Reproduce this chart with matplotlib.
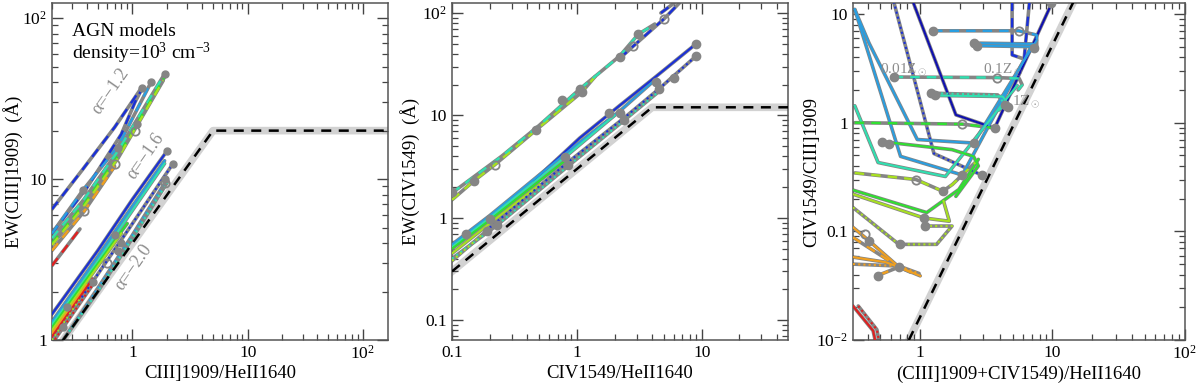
import matplotlib
matplotlib.use("Agg")
import matplotlib.pyplot as plt
from matplotlib.ticker import FixedLocator, LogLocator, NullFormatter, FuncFormatter

plt.rcParams['font.family'] = ['Liberation Serif', 'DejaVu Serif']
plt.rcParams['mathtext.fontset'] = 'custom'
plt.rcParams['mathtext.rm'] = 'Liberation Serif'
plt.rcParams['mathtext.it'] = 'Liberation Serif:italic'

RED = '#e02020'
ORANGE = '#f0a020'
YGREEN = '#a8e020'
GREEN = '#30e030'
TEAL = '#30e0b0'
CYAN = '#2a9ee0'
BLUE = '#1a30d8'
DBLUE = '#1010b0'
GRAY = '#858585'

# ---- panel 1: EW(CIII]) vs CIII]/HeII ----
p1_dash_colors = [BLUE, BLUE, CYAN, TEAL, GREEN, YGREEN, ORANGE, RED]
p1_dash_x = [[0.2, 0.37, 0.7, 1.2], [0.2, 0.4, 0.8, 1.05, 1.2], [0.2, 0.37, 0.75, 1.45],
             [0.2, 0.38, 0.75, 1.9], [0.2, 0.38, 0.75, 1.9], [0.2, 0.38, 0.75, 1.85],
             [0.2, 0.38, 0.7], [0.2, 0.35]]
p1_dash_y = [[6.5, 11.5, 21, 37], [4.6, 8.8, 19, 30, 36], [4.6, 8.5, 16, 40],
             [4.3, 7.5, 15, 45], [4.0, 7.0, 14, 43], [3.9, 6.8, 13.5, 41],
             [3.6, 6.3, 12], [2.9, 4.9]]

p1_solid_colors = [BLUE, CYAN, TEAL, GREEN, YGREEN, ORANGE, RED]
p1_solid_x = [[0.2, 0.5, 1.0, 2.0], [0.2, 0.5, 1.0, 1.9], [0.2, 0.5, 1.0, 1.9],
              [0.2, 0.45, 0.9], [0.2, 0.4, 0.8], [0.2, 0.4], [0.2, 0.45]]
p1_solid_y = [[1.45, 3.6, 7.5, 15], [1.3, 3.3, 6.8, 13], [1.25, 3.1, 6.4, 12.5],
              [1.2, 2.7, 5.3], [1.15, 2.3, 4.6], [1.1, 2.2], [1.05, 2.4]]

p1_dot_colors = [BLUE, CYAN, TEAL, YGREEN, RED]
p1_dot_x = [[0.2, 0.45, 1.0, 2.25], [0.25, 0.5, 1.0, 2.0], [0.25, 0.5, 1.0, 2.0],
            [0.2, 0.35], [0.2, 0.45]]
p1_dot_y = [[1.0, 2.3, 5.3, 12.5], [1.0, 2.1, 4.5, 10], [1.0, 2.0, 4.3, 9.5],
            [1.0, 1.8], [0.95, 2.2]]

p1_dots_x = [1.2, 1.45, 1.9, 0.37, 0.75, 1.1, 2.0, 2.25, 1.9, 0.7, 0.75, 0.45, 0.27, 0.25, 0.8]
p1_dots_y = [37, 40, 45, 8.5, 15.5, 22, 15, 12.5, 10, 4.5, 3.6, 2.3, 1.6, 1.2, 4.0]
p1_open_x = [0.38, 0.7, 1.05, 1.9, 0.6]
p1_open_y = [6.3, 12.5, 20, 9.5, 3.0]

p1_lim_x = [0.2, 5.0, 200.0]
p1_lim_y = [0.8, 20.0, 20.0]

# ---- panel 2: EW(CIV) vs CIV/HeII ----
p2_dash_colors = [YGREEN, TEAL, BLUE, BLUE]
p2_dash_x = [[0.1, 0.15, 0.22, 0.47, 1.1, 1.4], [0.1, 0.25, 0.5, 1.05, 2.2, 3.1, 4.2],
             [2.2, 2.8, 5.0, 6.6], [4.7, 6.0]]
p2_dash_y = [[1.5, 2.3, 3.3, 7.2, 17, 24], [1.75, 4.0, 8.0, 18, 38, 62, 78],
             [36, 47, 88, 125], [100, 125]]

p2_solid_colors = [BLUE, CYAN, TEAL, GREEN, YGREEN]
p2_solid_x = [[0.45, 0.8, 1.05, 2.2, 4.3, 9.0], [0.1, 0.2, 0.8, 2.2, 4.0],
              [0.1, 0.2, 0.8, 2.0], [0.1, 0.2, 0.8], [0.1, 0.2, 0.5]]
p2_solid_y = [[2.3, 4.4, 6.0, 12.5, 24, 50], [0.55, 1.05, 4.2, 11, 21],
              [0.52, 1.0, 3.9, 10], [0.5, 0.95, 3.6], [0.45, 0.88, 2.1]]

p2_dot_colors = [BLUE, TEAL, YGREEN]
p2_dot_x = [[0.2, 0.8, 2.4, 4.5, 9.0], [0.1, 0.23, 0.85, 2.4, 4.5], [0.1, 0.19]]
p2_dot_y = [[0.8, 3.3, 9.5, 18, 38], [0.4, 0.85, 3.2, 9, 17], [0.38, 0.75]]

p2_dots_x = [0.1, 0.15, 0.47, 1.1, 1.05, 2.2, 3.1, 0.76, 0.2, 0.23, 0.19, 0.13,
             0.8, 0.85, 2.2, 2.4, 4.3, 4.5, 9.0, 9.0, 1.8, 6.0]
p2_dots_y = [1.8, 2.3, 7.2, 17, 18, 37, 63, 14.3, 0.97, 0.85, 0.75, 0.7,
             3.9, 3.3, 10.5, 9.0, 21, 18, 50, 38, 10.5, 23]
p2_open_x = [0.22, 2.8, 5.0]
p2_open_y = [3.3, 48, 88]

p2_lim_x = [0.1, 4.0, 60.0]
p2_lim_y = [0.3, 12.0, 12.0]

# ---- panel 3: CIV/CIII] vs (CIII]+CIV)/HeII ----
p3_colors = [DBLUE, BLUE, BLUE, CYAN, CYAN, TEAL, GREEN, GREEN, GREEN, YGREEN, YGREEN,
             YGREEN, ORANGE, ORANGE, ORANGE, ORANGE, RED, RED,
             CYAN, CYAN, CYAN, TEAL, TEAL, TEAL]
p3_styles = ['-', ':', '--', '-', '-', '-', '--', '-', '-', '--', '-',
             ':', '-', '--', ':', '-', '-', ':',
             '--', '-', '-', '--', ':', '-']
p3_x = [[0.88, 1.86, 3.65, 10.0],
        [0.63, 1.27, 2.91],
        [4.95, 4.95, 6.1, 6.7],
        [0.32, 0.41, 0.95, 2.53, 7.57],
        [0.32, 0.71, 2.08, 6.9],
        [0.32, 0.48, 1.55, 5.4],
        [0.32, 2.08, 3.73],
        [0.51, 1.74, 2.53, 2.75, 1.86],
        [0.31, 1.12, 1.96, 2.75],
        [0.32, 0.93, 1.48, 1.75, 2.6],
        [0.31, 1.06, 1.66, 1.5],
        [0.31, 0.69, 1.33, 1.74, 1.06],
        [0.31, 0.41, 0.69, 1.0],
        [0.31, 0.69, 0.47],
        [0.31, 0.69, 0.98],
        [0.31, 0.55, 0.69, 0.85],
        [0.31, 0.44, 0.46],
        [0.34, 0.47, 0.49],
        [1.25, 5.56, 7.6, 7.6],
        [2.53, 7.2],
        [2.7, 7.4],
        [0.63, 3.8, 5.6, 5.9, 5.5],
        [1.2, 3.85, 4.4],
        [1.3, 4.2, 4.6, 3.9]]
p3_y = [[13, 1.18, 0.89, 13],
        [13, 0.52, 0.33],
        [13, 4.2, 3.85, 13],
        [11, 5.4, 0.70, 0.65, 5.7],
        [11, 0.49, 0.33, 5.0],
        [1.43, 0.43, 0.32, 2.2],
        [1.0, 0.97, 0.89],
        [0.67, 0.565, 0.49, 0.40, 0.21],
        [0.24, 0.149, 0.243, 0.46],
        [0.345, 0.30, 0.234, 0.27, 0.43],
        [0.22, 0.133, 0.124, 0.19],
        [0.166, 0.076, 0.076, 0.112, 0.112],
        [0.109, 0.082, 0.047, 0.039],
        [0.088, 0.047, 0.039],
        [0.05, 0.048, 0.041],
        [0.058, 0.052, 0.047, 0.042],
        [0.0206, 0.0122, 0.0095],
        [0.0206, 0.0125, 0.0095],
        [7.0, 7.0, 6.4, 4.9],
        [5.4, 5.3],
        [5.1, 5.0],
        [2.63, 2.6, 2.55, 2.23, 2.0],
        [1.87, 1.8, 1.46],
        [1.78, 1.74, 1.5, 1.3]]

p3_dots_x = [1.25, 2.53, 2.7, 0.63, 1.2, 1.3, 0.51, 0.58, 9.75, 7.2, 4.4, 3.65, 2.53,
             2.08, 2.91, 1.48, 1.08, 1.06, 0.7, 0.41, 0.69, 0.48, 4.6]
p3_dots_y = [7.0, 5.4, 5.1, 2.63, 1.87, 1.78, 0.67, 0.64, 12.5, 4.9, 1.46, 0.89, 0.65,
             0.33, 0.33, 0.234, 0.112, 0.133, 0.076, 0.082, 0.047, 0.039, 1.4]
p3_open_x = [5.56, 3.8, 2.08, 0.93, 0.38]
p3_open_y = [7.0, 2.6, 0.97, 0.30, 0.095]

p3_lim_x = [0.82, 16.0]
p3_lim_y = [0.01, 16.8]

p3_z_labels = ['0.01Z$_\\odot$', '0.1Z$_\\odot$', '1Z$_\\odot$']
p3_z_x = [0.75, 4.2, 6.3]
p3_z_y = [3.06, 3.06, 1.56]


def track(ax, x, y, color, ls):
    ax.plot(x, y, color=GRAY, lw=2.6, solid_capstyle='round', zorder=2)
    if ls == '--':
        ax.plot(x, y, color=color, lw=1.7, dashes=(4, 3), zorder=3)
    elif ls == ':':
        ax.plot(x, y, color=color, lw=1.5, dashes=(1, 1.5), zorder=3)
    else:
        ax.plot(x, y, color=color, lw=1.5, zorder=3)


def limit(ax, x, y):
    ax.plot(x, y, color='#d2d2d2', lw=5.5, zorder=1)
    ax.plot(x, y, color='black', lw=1.8, dashes=(4, 3), zorder=4)


def fmt(v, pos):
    if v in (1, 10, 0.1):
        return '%g' % v
    if v == 100:
        return '10$^2$'
    if v == 0.01:
        return '10$^{-2}$'
    return ''


def style(ax, xlim, ylim, xmajor, ymajor, ylab_x):
    ax.set_xscale('log')
    ax.set_yscale('log')
    ax.set_xlim(*xlim)
    ax.set_ylim(*ylim)
    ax.xaxis.set_major_locator(FixedLocator(xmajor))
    ax.yaxis.set_major_locator(FixedLocator(ymajor))
    ax.xaxis.set_minor_locator(LogLocator(subs=range(2, 10)))
    ax.yaxis.set_minor_locator(LogLocator(subs=range(2, 10)))
    ax.xaxis.set_major_formatter(FuncFormatter(fmt))
    ax.yaxis.set_major_formatter(FuncFormatter(fmt))
    ax.xaxis.set_minor_formatter(NullFormatter())
    ax.yaxis.set_minor_formatter(NullFormatter())
    ax.tick_params(which='both', direction='in', top=True, right=True,
                   color='#444444', labelsize=12.5)
    ax.tick_params(which='major', length=8, width=1)
    ax.tick_params(which='minor', length=4, width=0.9)
    for s in ax.spines.values():
        s.set_color('#555555')
        s.set_linewidth(1.1)
    ax.xaxis.set_label_coords(0.5, -0.075)
    ax.yaxis.set_label_coords(ylab_x, 0.5)


fig = plt.figure(figsize=(12, 3.83), dpi=100)
ax1 = fig.add_axes([0.0433, 0.112, 0.280, 0.880])
ax2 = fig.add_axes([0.3767, 0.112, 0.280, 0.880])
ax3 = fig.add_axes([0.7108, 0.112, 0.2765, 0.880])

# panel 1
limit(ax1, p1_lim_x, p1_lim_y)
for x, y, c in zip(p1_dash_x, p1_dash_y, p1_dash_colors):
    track(ax1, x, y, c, '--')
for x, y, c in zip(p1_solid_x, p1_solid_y, p1_solid_colors):
    track(ax1, x, y, c, '-')
for x, y, c in zip(p1_dot_x, p1_dot_y, p1_dot_colors):
    track(ax1, x, y, c, ':')
ax1.plot(p1_dots_x, p1_dots_y, 'o', color=GRAY, ms=5, zorder=5)
ax1.plot(p1_open_x, p1_open_y, 'o', mfc='none', mec=GRAY, ms=6, mew=1.3, zorder=5)
ax1.text(0.06, 0.915, 'AGN models', transform=ax1.transAxes, fontsize=14, va='center')
ax1.text(0.06, 0.85, 'density=10$^3$ cm$^{-3}$', transform=ax1.transAxes,
         fontsize=14, va='center')
ax1.text(0.64, 35, '\u03b1=\u22121.2', color='#8c8c8c', fontsize=13, rotation=55,
         ha='center', va='center')
ax1.text(1.30, 13.9, '\u03b1=\u22121.6', color='#8c8c8c', fontsize=13, rotation=55,
         ha='center', va='center')
ax1.text(1.02, 2.84, '\u03b1=\u22122.0', color='#8c8c8c', fontsize=13, rotation=55,
         ha='center', va='center')
style(ax1, (0.2, 165), (1, 124), [1, 10, 100], [1, 10, 100], -0.085)
ax1.set_xlabel('CIII]1909/HeII1640', fontsize=13.5)
ax1.set_ylabel('EW(CIII]1909)  (\u00c5)', fontsize=13.5)

# panel 2
limit(ax2, p2_lim_x, p2_lim_y)
for x, y, c in zip(p2_dash_x, p2_dash_y, p2_dash_colors):
    track(ax2, x, y, c, '--')
for x, y, c in zip(p2_solid_x, p2_solid_y, p2_solid_colors):
    track(ax2, x, y, c, '-')
for x, y, c in zip(p2_dot_x, p2_dot_y, p2_dot_colors):
    track(ax2, x, y, c, ':')
ax2.plot(p2_dots_x, p2_dots_y, 'o', color=GRAY, ms=6, zorder=5)
ax2.plot(p2_open_x, p2_open_y, 'o', mfc='none', mec=GRAY, ms=6, mew=1.3, zorder=5)
style(ax2, (0.1, 49), (0.064, 125), [0.1, 1, 10], [0.1, 1, 10, 100], -0.095)
ax2.set_xlabel('CIV1549/HeII1640', fontsize=13.5)
ax2.set_ylabel('EW(CIV1549)  (\u00c5)', fontsize=13.5)

# panel 3
limit(ax3, p3_lim_x, p3_lim_y)
for x, y, c, ls in zip(p3_x, p3_y, p3_colors, p3_styles):
    track(ax3, x, y, c, ls)
ax3.plot(p3_dots_x, p3_dots_y, 'o', color=GRAY, ms=6, zorder=5)
ax3.plot(p3_open_x, p3_open_y, 'o', mfc='none', mec=GRAY, ms=6, mew=1.3, zorder=5)
for t, x, y in zip(p3_z_labels, p3_z_x, p3_z_y):
    ax3.text(x, y, t, color='#8c8c8c', fontsize=11, ha='center', va='center', zorder=6)
style(ax3, (0.31, 100), (0.01, 12.6), [1, 10, 100], [0.01, 0.1, 1, 10], -0.10)
ax3.set_xlabel('(CIII]1909+CIV1549)/HeII1640', fontsize=13.5)
ax3.set_ylabel('CIV1549/CIII]1909', fontsize=13.5)

fig.savefig('out.png', dpi=100)
